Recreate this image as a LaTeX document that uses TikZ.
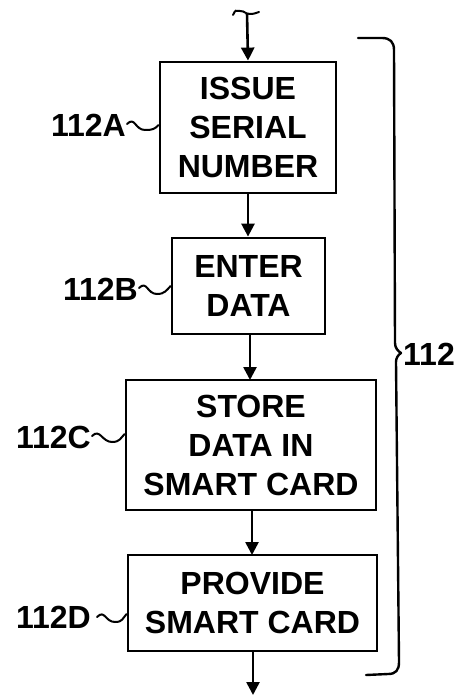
\documentclass[tikz,border=0pt]{standalone}
\usepackage{fontspec}
\setmainfont{Liberation Sans}
\usetikzlibrary{arrows.meta}
\begin{document}
\begin{tikzpicture}[x=1pt,y=-1pt,
  stepbox/.style={draw,line width=2.8pt,inner sep=0pt,align=center,
    font=\fontsize{32}{39}\selectfont\bfseries},
  reflabel/.style={inner sep=0pt,font=\fontsize{32}{39}\selectfont\bfseries},
  flow/.style={line width=2.6pt,-{Triangle[length=13pt,width=13pt]}},
  squig/.style={line width=2pt,line cap=round}]
\useasboundingbox (0,0) rectangle (462,695);
% boxes
\node[stepbox,minimum width=176pt,minimum height=131pt] (A) at (248,127.5) {ISSUE\\SERIAL\\NUMBER};
\node[stepbox,minimum width=153pt,minimum height=96pt] (B) at (248.5,286) {ENTER\\DATA};
\node[stepbox,minimum width=250pt,minimum height=130pt] (C) at (251,445) {STORE\\DATA IN\\SMART CARD};
\node[stepbox,minimum width=249pt,minimum height=96pt] (D) at (252.5,603) {PROVIDE\\SMART CARD};
% labels
\node[reflabel,anchor=east] (LA) at (126,125) {112A};
\node[reflabel,anchor=east] (LB) at (138,289) {112B};
\node[reflabel,anchor=east] (LC) at (91,437) {112C};
\node[reflabel,anchor=east] (LD) at (91,617) {112D};
\node[reflabel,anchor=west] (L) at (403,354) {112};
% label squiggles
\draw[squig] (LA.east) ++(1,-1) .. controls +(8,-8) and +(-10,0) .. ++(18,6) .. controls +(8,0) and +(-4,4) .. (A.west |- 0,125);
\draw[squig] (LB.east) ++(1,-1) .. controls +(8,-8) and +(-10,0) .. ++(18,6) .. controls +(8,0) and +(-4,4) .. (B.west |- 0,286);
\draw[squig] (LC.east) ++(1,-1) .. controls +(8,-8) and +(-10,0) .. ++(20,6) .. controls +(8,0) and +(-4,4) .. (C.west |- 0,434);
\draw[squig] (LD.east) ++(6,0) .. controls +(8,-8) and +(-10,0) .. ++(18,5) .. controls +(8,0) and +(-4,4) .. (D.west |- 0,614);
% top entry
\coordinate (top) at (247,13);
\draw[squig] (top) ++(-14,2) .. controls +(3,-6) and +(-5,0) .. ++(7,-4) .. controls +(5,0) and +(-5,0) .. ++(10,3) .. controls +(4,0) and +(-3,1) .. ++(9,-2);
\draw[flow] (top) -- (A.north);
% connectors
\draw[flow] (A.south) -- (A.south |- B.north);
\draw[flow] (B.south) ++(1.5,0) -- (250,380);
\draw[flow] (C.south) ++(1,0) -- (252,555);
\coordinate (bot) at (253,695);
\draw[flow] (D.south) ++(0.5,0) -- (bot);
% brace
\draw[line width=2.4pt,line cap=round,line join=round]
  (358,38) -- (382,38) .. controls (390,38) and (394,42) .. (394,50)
  -- (395,343) .. controls (395,348) and (398,351) .. (401,353)
  .. controls (398,355) and (396,358) .. (396,362)
  -- (399,662) .. controls (399,670) and (396,674) .. (388,674) -- (366,675);
\end{tikzpicture}
\end{document}
